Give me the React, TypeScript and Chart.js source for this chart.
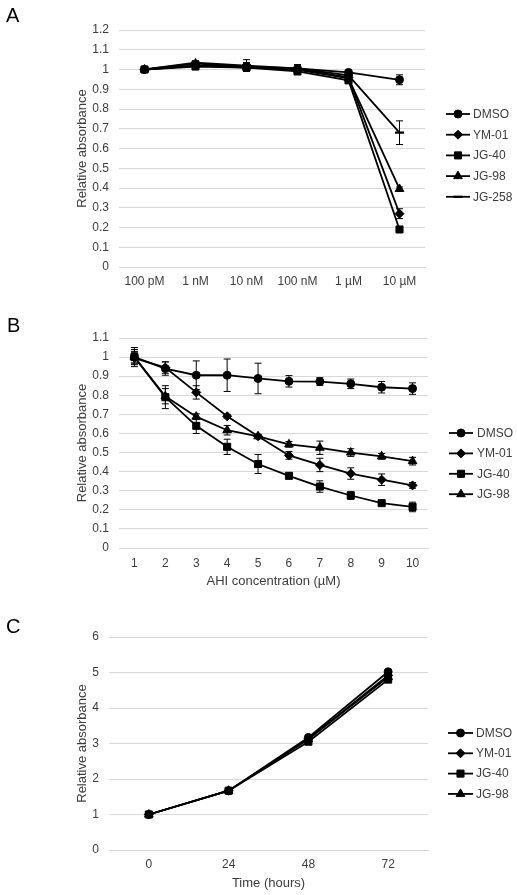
import React, { useEffect, useRef } from "react";
import { Chart, registerables } from "chart.js";
import { drawPoint } from "chart.js/helpers";

Chart.register(...registerables);

// ---------- Data ----------
const seriesNames = ["DMSO", "YM-01", "JG-40", "JG-98", "JG-258"];
const pointStyles = ["circle", "rectRot", "rect", "triangle", "line"];
const pointRadii = [4, 4.5, 5, 5, 4.5];

// Panel A
const aCategories = ["100 pM", "1 nM", "10 nM", "100 nM", "1 µM", "10 µM"];
const aDMSO = [1.0, 1.02, 1.015, 1.005, 0.985, 0.948];
const aYM01 = [1.0, 1.02, 1.01, 1.0, 0.96, 0.27];
const aJG40 = [1.0, 1.015, 1.01, 0.99, 0.945, 0.19];
const aJG98 = [1.0, 1.03, 1.015, 1.0, 0.955, 0.395];
const aJG258 = [1.0, 1.035, 1.02, 1.005, 0.97, 0.68];
const aErrDMSO = [0.01, 0.01, 0.02, 0.02, 0.01, 0.025];
const aErrYM01 = [0.01, 0.01, 0.02, 0.01, 0.01, 0.025];
const aErrJG40 = [0.01, 0.01, 0.02, 0.01, 0.01, 0.01];
const aErrJG98 = [0.01, 0.01, 0.02, 0.01, 0.01, 0.01];
const aErrJG258 = [0.01, 0.01, 0.03, 0.02, 0.01, 0.06];

// Panel B
const bCategories = ["1", "2", "3", "4", "5", "6", "7", "8", "9", "10"];
const bDMSO = [1.0, 0.94, 0.905, 0.905, 0.888, 0.873, 0.872, 0.86, 0.842, 0.835];
const bYM01 = [0.995, 0.945, 0.815, 0.69, 0.585, 0.485, 0.435, 0.39, 0.358, 0.328];
const bJG40 = [1.0, 0.79, 0.64, 0.53, 0.44, 0.378, 0.322, 0.275, 0.235, 0.215];
const bJG98 = [1.0, 0.795, 0.688, 0.617, 0.585, 0.543, 0.525, 0.5, 0.48, 0.455];
const bErrDMSO = [0.05, 0.035, 0.075, 0.085, 0.08, 0.03, 0.02, 0.025, 0.03, 0.03];
const bErrYM01 = [0.03, 0.03, 0.035, 0.01, 0.01, 0.02, 0.035, 0.03, 0.03, 0.015];
const bErrJG40 = [0.04, 0.06, 0.04, 0.04, 0.05, 0.01, 0.03, 0.02, 0.01, 0.025];
const bErrJG98 = [0.03, 0.04, 0.015, 0.025, 0.01, 0.015, 0.035, 0.02, 0.015, 0.02];

// Panel C
const cCategories = ["0", "24", "48", "72"];
const cDMSO = [1, 1.67, 3.17, 5.02];
const cYM01 = [1, 1.67, 3.13, 4.92];
const cJG40 = [1, 1.67, 3.05, 4.8];
const cJG98 = [1, 1.67, 3.12, 4.87];

// ---------- Styling ----------
const FONT = "'Liberation Sans', Arial, Helvetica, sans-serif";
const TEXT = "#3c3c3c";
const GRID = "#d9d9d9";
const LINE_W = 1.8;

const errorBarPlugin = {
  id: "errorBars",
  beforeDatasetsDraw(chart: any) {
    const ctx = chart.ctx;
    const y = chart.scales.y;
    ctx.save();
    ctx.strokeStyle = "#000";
    ctx.lineWidth = 1;
    chart.data.datasets.forEach((ds: any, i: number) => {
      if (!ds.errors) return;
      const meta = chart.getDatasetMeta(i);
      meta.data.forEach((pt: any, j: number) => {
        const e = ds.errors[j];
        if (!e) return;
        const v = ds.data[j];
        const y1 = y.getPixelForValue(v + e);
        const y2 = y.getPixelForValue(v - e);
        const x = pt.x;
        ctx.beginPath();
        ctx.moveTo(x, y1);
        ctx.lineTo(x, y2);
        ctx.moveTo(x - 3.5, y1);
        ctx.lineTo(x + 3.5, y1);
        ctx.moveTo(x - 3.5, y2);
        ctx.lineTo(x + 3.5, y2);
        ctx.stroke();
      });
    });
    ctx.restore();
  },
};

const legendPlugin = {
  id: "customLegend",
  afterDraw(chart: any, _args: any, opts: any) {
    const ctx = chart.ctx;
    ctx.save();
    // panel letter
    ctx.fillStyle = "#000";
    ctx.font = `20px ${FONT}`;
    ctx.textBaseline = "alphabetic";
    ctx.textAlign = "left";
    ctx.fillText(opts.letter, opts.letterX, opts.letterY);
    // legend
    ctx.font = `12px ${FONT}`;
    ctx.textBaseline = "middle";
    chart.data.datasets.forEach((ds: any, i: number) => {
      const yy = opts.y + i * opts.step;
      ctx.strokeStyle = "#000";
      ctx.lineWidth = LINE_W;
      ctx.beginPath();
      ctx.moveTo(opts.x, yy);
      ctx.lineTo(opts.x + opts.lineW, yy);
      ctx.stroke();
      ctx.fillStyle = "#000";
      ctx.strokeStyle = "#000";
      ctx.lineWidth = ds.pointStyle === "line" ? 2.2 : 1;
      drawPoint(ctx, { pointStyle: ds.pointStyle, radius: ds.pointRadius, rotation: 0, borderWidth: 1 }, opts.x + opts.lineW / 2, yy);
      ctx.fillStyle = TEXT;
      ctx.fillText(ds.label, opts.textX, yy + 0.5);
    });
    ctx.restore();
  },
};

function makeDatasets(values: number[][], errors: (number[] | null)[]) {
  return values.map((d, i) => ({
    label: seriesNames[i],
    data: d,
    errors: errors[i],
    borderColor: "#000",
    backgroundColor: "#000",
    borderWidth: LINE_W,
    pointStyle: pointStyles[i],
    pointRadius: pointRadii[i],
    pointBackgroundColor: "#000",
    pointBorderColor: "#000",
    pointBorderWidth: pointStyles[i] === "line" ? 2.2 : 1,
    tension: 0,
    fill: false,
  }));
}

function fmt(v: number) {
  return String(Math.round(v * 10) / 10);
}

type Cfg = {
  height: number;
  labels: string[];
  datasets: any[];
  yMax: number;
  yStep: number;
  yWidth: number;
  yTitlePad: number;
  xHeight: number;
  xTickPad: number;
  xTitle?: string;
  xTitlePadBottom?: number;
  pad: { top: number; right: number; bottom: number; left: number };
  legend: any;
};

function LineChart({ cfg }: { cfg: Cfg }) {
  const ref = useRef<HTMLCanvasElement | null>(null);
  useEffect(() => {
    if (!ref.current) return;
    const chart = new Chart(ref.current, {
      type: "line",
      data: { labels: cfg.labels, datasets: cfg.datasets },
      plugins: [errorBarPlugin, legendPlugin],
      options: {
        animation: false,
        responsive: false,
        devicePixelRatio: 1,
        layout: { padding: cfg.pad },
        plugins: {
          legend: { display: false },
          tooltip: { enabled: false },
          customLegend: cfg.legend,
        } as any,
        scales: {
          x: {
            offset: true,
            grid: { display: false, drawTicks: false },
            border: { display: true, color: GRID, width: 1 },
            ticks: { color: TEXT, font: { family: FONT, size: 12 }, padding: cfg.xTickPad, maxRotation: 0, autoSkip: false },
            title: cfg.xTitle
              ? { display: true, text: cfg.xTitle, color: TEXT, font: { family: FONT, size: 13 }, padding: { top: 0, bottom: cfg.xTitlePadBottom ?? 0 } }
              : { display: false },
            afterFit: (s: any) => { s.height = cfg.xHeight; },
          },
          y: {
            min: 0,
            max: cfg.yMax,
            grid: { color: GRID, lineWidth: 1, drawTicks: false },
            border: { display: false },
            ticks: { stepSize: cfg.yStep, color: TEXT, font: { family: FONT, size: 12 }, padding: 10, callback: (v: any) => fmt(Number(v)) },
            title: { display: true, text: "Relative absorbance", color: TEXT, font: { family: FONT, size: 13 }, padding: { top: cfg.yTitlePad, bottom: 0 } },
            afterFit: (s: any) => { s.width = cfg.yWidth; },
          },
        },
      } as any,
    });
    return () => chart.destroy();
  }, [cfg]);
  return <canvas ref={ref} width={517} height={cfg.height} style={{ width: 517, height: cfg.height, display: "block" }} />;
}

const cfgA: Cfg = {
  height: 290,
  labels: aCategories,
  datasets: makeDatasets([aDMSO, aYM01, aJG40, aJG98, aJG258], [aErrDMSO, aErrYM01, aErrJG40, aErrJG98, aErrJG258]),
  yMax: 1.2,
  yStep: 0.1,
  yWidth: 119,
  yTitlePad: 75,
  xHeight: 23,
  xTickPad: 7,
  pad: { top: 30, right: 92, bottom: 0, left: 0 },
  legend: { letter: "A", letterX: 6, letterY: 22, x: 446, y: 114, step: 20.7, lineW: 24, textX: 473 },
};

const cfgB: Cfg = {
  height: 310,
  labels: bCategories,
  datasets: makeDatasets([bDMSO, bYM01, bJG40, bJG98], [bErrDMSO, bErrYM01, bErrJG40, bErrJG98]),
  yMax: 1.1,
  yStep: 0.1,
  yWidth: 119,
  yTitlePad: 75,
  xHeight: 45,
  xTickPad: 8,
  xTitle: "AHI concentration (µM)",
  xTitlePadBottom: 4,
  pad: { top: 48, right: 89, bottom: 7, left: 0 },
  legend: { letter: "B", letterX: 7, letterY: 42, x: 449, y: 143, step: 20.4, lineW: 24, textX: 477 },
};

const cfgC: Cfg = {
  height: 295,
  labels: cCategories,
  datasets: makeDatasets([cDMSO, cYM01, cJG40, cJG98], [null, null, null, null]),
  yMax: 6,
  yStep: 1,
  yWidth: 109,
  yTitlePad: 75,
  xHeight: 41,
  xTickPad: 7,
  xTitle: "Time (hours)",
  xTitlePadBottom: 0,
  pad: { top: 37, right: 89, bottom: 4, left: 0 },
  legend: { letter: "C", letterX: 6, letterY: 33, x: 448, y: 133, step: 20.3, lineW: 25, textX: 476 },
};

export default function App() {
  return (
    <div>
      <div style={{ position: "absolute", left: 0, top: 0 }}>
        <LineChart cfg={cfgA} />
      </div>
      <div style={{ position: "absolute", left: 0, top: 290 }}>
        <LineChart cfg={cfgB} />
      </div>
      <div style={{ position: "absolute", left: 0, top: 600 }}>
        <LineChart cfg={cfgC} />
      </div>
    </div>
  );
}
